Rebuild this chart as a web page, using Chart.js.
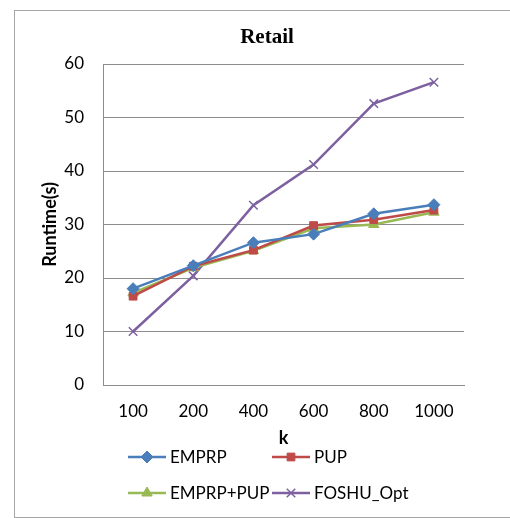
<!DOCTYPE html>
<html>
<head>
<meta charset="utf-8">
<script src="https://cdn.jsdelivr.net/npm/chart.js@4.4.1/dist/chart.umd.min.js"></script>
<style>
  html, body { margin: 0; padding: 0; background: #fff; }
  #wrap { width: 510px; height: 518px; position: relative; }
</style>
</head>
<body>
<div id="wrap"><canvas id="c" width="510" height="518"></canvas></div>
<script>
// Runtime (seconds) of each algorithm on the Retail dataset, for each k
const categories = ['100', '200', '400', '600', '800', '1000'];
const emprp      = [18.0, 22.3, 26.6, 28.2, 32.0, 33.7];
const pup        = [16.6, 22.2, 25.2, 29.8, 30.9, 32.7];
const emprpPup   = [17.2, 21.9, 25.1, 29.3, 30.0, 32.3];
const foshuOpt   = [10.0, 20.4, 33.6, 41.2, 52.6, 56.6];
const seriesNames = ['EMPRP', 'PUP', 'EMPRP+PUP', 'FOSHU_Opt'];
const yTicks = [0, 10, 20, 30, 40, 50, 60];

const FONT = 'Lato, "Open Sans", sans-serif';
const GRID = '#8c8c8c';

function series(label, data, color, style, radius, borderW) {
  return {
    label, data,
    borderColor: color, backgroundColor: color,
    pointBackgroundColor: color, pointBorderColor: color,
    pointStyle: style, pointRadius: radius, pointHoverRadius: radius,
    pointBorderWidth: borderW,
    borderWidth: 2.5, tension: 0, fill: false
  };
}

const datasets = [
  series(seriesNames[0], emprp,    '#4a7ebb', 'rectRot',  6,   1),
  series(seriesNames[1], pup,      '#be4b48', 'rect',     5.5, 1),
  series(seriesNames[2], emprpPup, '#98b954', 'triangle', 6,   1),
  series(seriesNames[3], foshuOpt, '#7d60a0', 'crossRot', 6,   1.5)
];

// Frame, chart title and the two-column legend under the axis
const decorations = {
  id: 'decorations',
  beforeDraw(chart) {
    const ctx = chart.ctx;
    ctx.save();
    ctx.fillStyle = '#fff';
    ctx.fillRect(0, 0, chart.width, chart.height);
    ctx.strokeStyle = '#a6a6a6';
    ctx.lineWidth = 1;
    ctx.strokeRect(14.5, 10.5, 520, 507);
    ctx.restore();
  },
  afterDraw(chart) {
    const ctx = chart.ctx;
    ctx.save();
    ctx.fillStyle = '#000';
    ctx.font = 'bold 21px "Liberation Serif", "Times New Roman", serif';
    ctx.textAlign = 'center';
    ctx.textBaseline = 'middle';
    ctx.fillText('Retail', 267, 38);

    const cols = [128, 272];
    const rows = [457, 493];
    ctx.font = '17px ' + FONT;
    ctx.textAlign = 'left';
    chart.data.datasets.forEach((ds, i) => {
      const x = cols[i % 2], y = rows[Math.floor(i / 2)];
      ctx.strokeStyle = ds.borderColor;
      ctx.lineWidth = 2.5;
      ctx.beginPath();
      ctx.moveTo(x, y);
      ctx.lineTo(x + 38, y);
      ctx.stroke();
      ctx.fillStyle = ds.pointBackgroundColor;
      ctx.strokeStyle = ds.pointBorderColor;
      ctx.lineWidth = ds.pointBorderWidth;
      Chart.helpers.drawPoint(ctx, { pointStyle: ds.pointStyle, rotation: 0, radius: ds.pointRadius, borderWidth: ds.pointBorderWidth }, x + 19, y);
      ctx.fillStyle = '#000';
      ctx.fillText(ds.label, x + 42, y + 1);
    });
    ctx.restore();
  }
};

new Chart(document.getElementById('c'), {
  type: 'line',
  data: { labels: categories, datasets },
  plugins: [decorations],
  options: {
    responsive: false,
    animation: false,
    events: [],
    layout: { padding: { top: 64, right: 46, left: 0, bottom: 0 } },
    plugins: { legend: { display: false }, title: { display: false }, tooltip: { enabled: false } },
    scales: {
      x: {
        offset: true,
        grid: { display: false, drawTicks: false },
        border: { display: true, color: GRID, width: 1 },
        ticks: { color: '#000', padding: 16, font: { family: FONT, size: 17 } },
        title: { display: true, text: 'k', color: '#000', font: { family: FONT, size: 18, weight: 'bold' }, padding: { top: 0, bottom: 69 } },
        afterFit(s) { s.height = 133; }
      },
      y: {
        min: 0, max: 60,
        afterBuildTicks(s) { s.ticks = yTicks.map(v => ({ value: v })); },
        grid: { color: GRID, lineWidth: 1, drawTicks: false },
        border: { display: true, color: GRID, width: 1 },
        ticks: { color: '#000', padding: 19, font: { family: FONT, size: 17 } },
        title: { display: true, text: 'Runtime(s)', color: '#000', font: { family: FONT, size: 18, weight: 'bold' }, padding: { top: 39, bottom: 0 } },
        afterFit(s) { s.width = 103; }
      }
    }
  }
});
</script>
</body>
</html>
